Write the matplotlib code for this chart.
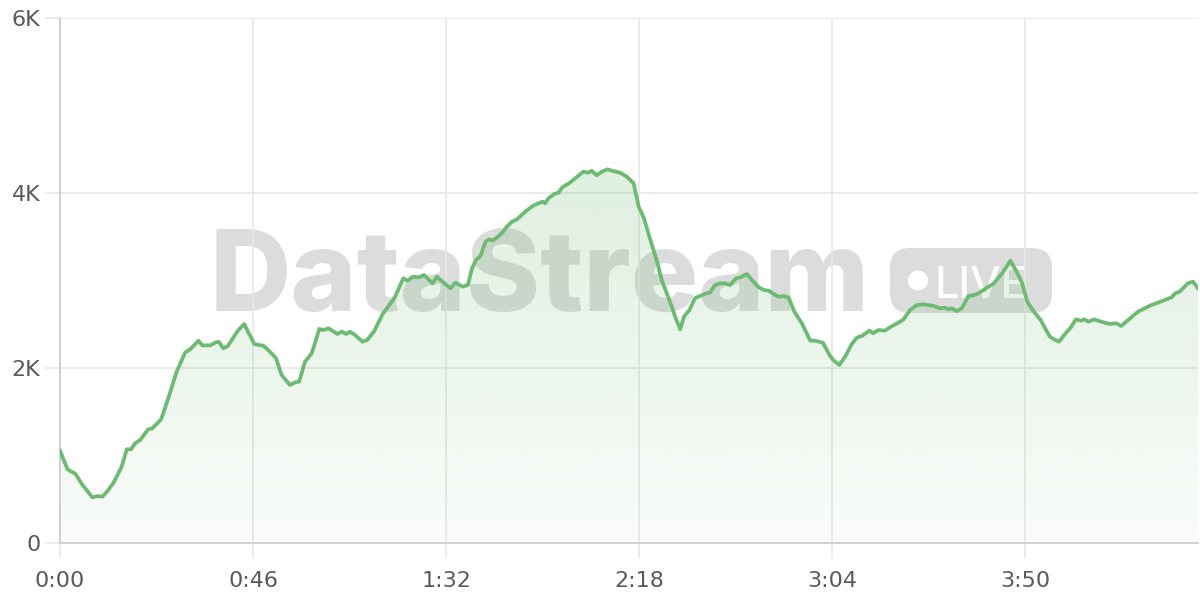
import numpy as np
import matplotlib
matplotlib.use("Agg")
import matplotlib.pyplot as plt
from matplotlib.patches import FancyBboxPatch, Circle

# seconds since start and value
times = [
    0.0, 1.8, 3.7, 5.2, 7.7, 9.0, 10.1, 11.4, 12.9, 14.7, 15.9, 16.9, 17.9, 19.1,
    21.0, 22.0, 24.1, 25.8, 27.8, 29.8, 31.0, 33.0, 33.9, 35.8, 37.3, 37.9, 38.9,
    40.0, 42.4, 43.9, 46.3, 47.3, 48.5, 50.4, 51.5, 52.8, 54.8, 56.0, 57.0, 58.4,
    60.0, 61.8, 62.8, 64.0, 66.1, 67.1, 68.2, 69.1, 70.3, 72.1, 73.2, 74.8, 76.9,
    79.8, 81.8, 82.8, 84.1, 85.4, 86.8, 87.8, 88.8, 89.8, 91.8, 93.0, 94.2, 96.0,
    97.2, 98.2, 99.1, 100.2, 101.4, 102.3, 103.0, 104.2, 105.4, 106.5, 107.7,
    108.9, 110.9, 112.6, 114.0, 115.0, 115.6, 116.4, 117.8, 118.8, 119.7, 121.3,
    123.1, 124.7, 125.9, 126.7, 127.9, 129.1, 130.5, 131.5, 133.5, 135.1, 136.7,
    137.9, 139.1, 140.7, 142.3, 143.4, 144.6, 145.8, 146.6, 147.8, 148.7, 150.0,
    151.3, 152.5, 154.1, 154.9, 156.1, 157.3, 158.5, 159.7, 161.1, 162.1, 163.7,
    164.9, 166.5, 167.7, 168.9, 170.1, 171.2, 172.4, 173.6, 175.0, 176.8, 178.8,
    180.0, 181.8, 183.5, 184.3, 185.7, 187.1, 188.7, 189.9, 191.1, 192.9, 193.8,
    195.0, 196.6, 197.8, 200.2, 201.0, 202.6, 204.2, 205.8, 208.2, 209.7, 210.9,
    211.7, 212.5, 213.7, 214.9, 216.5, 217.8, 218.9, 220.9, 222.4, 223.2, 224.8,
    226.5, 228.1, 229.3, 230.5, 232.1, 233.7, 234.9, 235.9, 236.9, 238.1, 239.3,
    240.9, 242.1, 243.3, 244.1, 245.1, 246.4, 248.1, 250.1, 251.7, 252.9, 254.1,
    255.3, 256.9, 258.5, 260.1, 261.7, 263.3, 264.9, 265.8, 266.8, 268.0, 268.8,
    270.0, 271.2,
]
values = [
    1055, 842, 789, 674, 522, 537, 529, 598, 701, 872, 1071, 1071, 1139, 1177,
    1299, 1310, 1413, 1653, 1958, 2175, 2213, 2312, 2259, 2259, 2297, 2297, 2225,
    2251, 2427, 2503, 2274, 2263, 2255, 2168, 2110, 1920, 1806, 1836, 1844, 2072,
    2168, 2446, 2434, 2453, 2389, 2415, 2389, 2415, 2377, 2301, 2320, 2415, 2617,
    2808, 3025, 2998, 3044, 3036, 3063, 3013, 2968, 3044, 2960, 2911, 2975, 2930,
    2949, 3139, 3234, 3280, 3444, 3471, 3455, 3494, 3547, 3615, 3672,
    3699, 3787, 3851, 3882, 3901, 3882, 3939, 3989, 4003, 4065, 4111,
    4180, 4244, 4232, 4255, 4202, 4244, 4271, 4255, 4232, 4186, 4111,
    3844, 3720, 3463, 3215, 3006, 2854, 2701, 2586, 2442, 2586, 2663,
    2797, 2823, 2854, 2860, 2949, 2968, 2968, 2949, 3025, 3036, 3074,
    3006, 2922, 2892, 2884, 2846, 2815, 2823, 2808, 2644, 2511, 2312,
    2312, 2289, 2140, 2091, 2034, 2129, 2274, 2347, 2366, 2427, 2396,
    2434, 2427, 2465, 2530, 2556, 2663, 2720, 2728, 2709, 2682, 2690,
    2671, 2682, 2651, 2682, 2823, 2834, 2854, 2918, 2960, 3006, 3101,
    3226, 3090, 2968, 2758, 2644, 2549, 2442, 2358, 2328, 2301, 2377,
    2465, 2556, 2541, 2556, 2530, 2556, 2530, 2503, 2511, 2480, 2530,
    2579, 2644, 2682, 2720, 2747, 2777, 2808, 2854, 2872, 2930, 2968,
    2987, 2911,
]
x_ticks = [0, 46, 92, 138, 184, 230]
x_tick_labels = ["0:00", "0:46", "1:32", "2:18", "3:04", "3:50"]
y_ticks = [0, 2000, 4000, 6000]
y_tick_labels = ["0", "2K", "4K", "6K"]

line_color = "#6dba73"
label_color = "#5a5a5a"
grid_color = "#e8e8e8"
mark_color = "#dcdcdc"

fig = plt.figure(figsize=(12, 6), dpi=100)
ax = fig.add_axes([60 / 1200, 1 - 543 / 600, 1138 / 1200, 525 / 600])
ax.set_xlim(0, times[-1])
ax.set_ylim(0, 6000)

# watermark, drawn under the grid and the area
px = fig.dpi_scale_trans
wm = ax.text(2.10, 2.89, "DataStream", transform=px, fontsize=80,
             fontweight="heavy", family="Inter", color=mark_color,
             ha="left", va="baseline", zorder=0.1)
r = fig.canvas.get_renderer()
w = wm.get_window_extent(r).width
wm.set_fontsize(80 * 660 / w)

badge = FancyBboxPatch((8.90 + 0.2, 2.87 + 0.2), 1.62 - 0.4, 0.65 - 0.4,
                       boxstyle="round,pad=0.2", transform=px,
                       facecolor=mark_color, edgecolor="none", zorder=0.1)
ax.add_patch(badge)
ax.add_patch(Circle((9.18, 3.195), 0.10, transform=px, facecolor="white",
                    edgecolor="none", zorder=0.15))
ax.text(9.35, 3.02, "LIVE", transform=px, fontsize=31, family="Inter",
        fontweight="medium", color="white", ha="left", va="baseline",
        zorder=0.15)

# gradient area under the line
poly = ax.fill_between(times, values, 0, facecolor="none", edgecolor="none")
rgb = np.array([110, 185, 115]) / 255
grad = np.zeros((256, 1, 4))
grad[:, 0, :3] = rgb
grad[:, 0, 3] = np.linspace(0.30, 0.04, 256)
img = ax.imshow(grad, extent=[0, times[-1], 0, 6000], aspect="auto",
                origin="upper", zorder=1, interpolation="bilinear")
img.set_clip_path(poly.get_paths()[0], transform=ax.transData)

ax.plot(times, values, color=line_color, lw=2.7, zorder=3,
        solid_joinstyle="round")

ax.set_xticks(x_ticks)
ax.set_xticklabels(x_tick_labels)
ax.set_yticks(y_ticks)
ax.set_yticklabels(y_tick_labels)
ax.grid(True, color=grid_color, lw=1.2, zorder=0.5)
ax.set_axisbelow(True)
for s in ["top", "right"]:
    ax.spines[s].set_visible(False)
for s in ["left", "bottom"]:
    ax.spines[s].set_color("#d2d2d2")
    ax.spines[s].set_linewidth(1.5)
ax.tick_params(axis="both", length=11, width=1.2, color=grid_color,
               labelcolor=label_color, labelsize=16)
ax.tick_params(axis="x", pad=9)
ax.tick_params(axis="y", pad=3)
for lab in ax.get_xticklabels() + ax.get_yticklabels():
    lab.set_family("DejaVu Sans")

fig.savefig("out.png", dpi=100)
